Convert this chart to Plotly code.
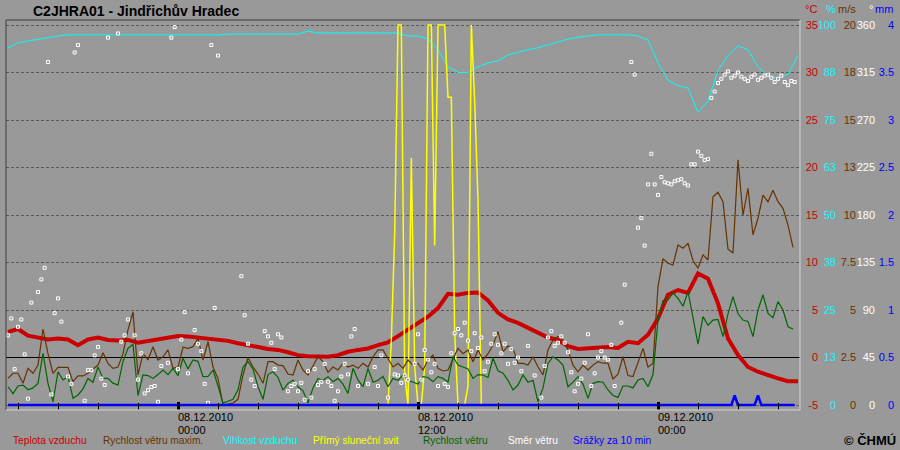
import pandas as pd
import plotly.graph_objects as go

# ---------------- data ----------------
START = pd.Timestamp("2010-12-07 15:30")

# air temperature [°C], every 30 min from START
temp_c = [2.7, 3.0, 2.3, 2.1, 1.9, 2.0, 1.9, 1.3, 1.9, 2.1,
          1.85, 1.8, 1.85, 1.55, 1.75, 1.85, 2.1, 2.25, 2.2, 2.1,
          1.9, 1.85, 1.75, 1.5, 1.35, 1.1, 0.9, 0.8, 0.55, 0.25,
          0.12, 0.15, 0.08, 0.25, 0.6, 0.8, 0.95, 1.3, 1.6, 2.25,
          2.9, 3.6, 4.3, 5.2, 6.7, 6.6, 6.8, 6.85, 6.0, 4.7,
          4.0, 3.65, 3.15, 2.55, 2.1, 1.85, 1.2, 0.9, 1.0, 1.07,
          1.1, 1.0, 1.65, 1.5, 2.4, 4.1, 6.6, 7.1, 6.8, 8.85,
          8.3, 5.7, 2.0, 0.26, -1.0, -1.5, -1.9, -2.2, -2.5, -2.5]

# relative humidity [%], every 30 min from START
humidity_pct = [94.0, 95.3, 95.8, 96.3, 96.6, 97.1, 97.4, 97.4, 97.4, 97.4,
                97.4, 97.4, 97.4, 97.4, 97.4, 97.4, 97.4, 97.4, 97.4, 97.4,
                97.4, 97.4, 97.6, 97.6, 97.6, 97.6, 97.6, 97.6, 97.6, 97.6,
                98.4, 97.9, 97.9, 97.9, 97.9, 97.9, 97.9, 97.9, 97.9, 97.9,
                97.1, 97.1, 96.3, 93.5, 89.0, 87.5, 87.5, 89.0, 90.0, 90.6,
                92.1, 92.9, 93.5, 94.0, 94.8, 95.5, 96.3, 96.8, 97.1, 97.4,
                97.4, 97.4, 97.4, 97.1, 96.0, 90.0, 85.5, 84.0, 83.4, 77.0,
                80.0, 88.0, 92.0, 94.5, 93.5, 89.0, 86.5, 86.0, 87.0, 92.0]

# max wind speed (gusts) [m/s], every 15 min from START
gust_ms = [1.4, 1.67, 1.67, 1.14, 1.93, 1.67, 2.1, 4.0, 2.7, 1.67,
           1.98, 1.98, 1.98, 1.23, 1.53, 1.53, 1.67, 1.9, 2.1, 2.75,
           2.19, 1.93, 2.0, 2.7, 3.95, 4.9, 1.58, 2.7, 2.37, 3.07,
           2.37, 2.54, 2.9, 1.93, 2.0, 3.04, 2.98, 3.07, 3.5, 2.37,
           3.33, 2.0, 1.4, 0.0, 0.05, 0.1, 0.3, 1.58, 2.5, 2.0,
           1.63, 1.14, 2.28, 2.28, 2.1, 2.07, 1.63, 1.58, 2.37, 1.84,
           1.58, 2.1, 2.54, 2.28, 1.72, 2.0, 1.84, 2.19, 2.0, 2.1,
           1.93, 2.19, 2.0, 2.54, 2.9, 2.9, 2.46, 2.0, 2.19, 1.93,
           2.37, 2.1, 2.19, 1.84, 2.37, 2.63, 1.93, 1.79, 1.84, 2.37,
           2.98, 2.7, 2.9, 2.28, 2.9, 2.37, 2.7, 3.16, 3.86, 2.8,
           3.1, 2.98, 2.19, 2.19, 2.1, 2.54, 2.0, 1.58, 2.9, 3.42,
           3.6, 3.42, 2.9, 2.1, 1.75, 2.1, 1.84, 2.1, 2.28, 2.2,
           2.2, 1.37, 1.62, 2.54, 1.55, 1.5, 2.25, 2.98, 2.0, 2.19,
           6.23, 7.7, 7.46, 7.37, 8.42, 8.25, 8.51, 7.6, 7.2, 7.9,
           7.63, 10.96, 11.2, 10.7, 8.2, 8.0, 12.9, 10.0, 11.4, 8.95,
           9.83, 11.05, 10.7, 11.3, 10.7, 10.35, 9.47, 8.3]

# mean wind speed [m/s], every 15 min from START
wind_ms = [0.96, 0.6, 1.0, 1.05, 0.8, 0.9, 1.14, 2.72, 1.14, 0.17,
           1.75, 1.32, 1.49, 0.35, 0.53, 0.85, 1.4, 1.2, 2.0, 1.4,
           1.4, 1.15, 1.05, 2.3, 2.98, 3.2, 0.5, 1.58, 1.55, 1.4,
           1.6, 1.84, 1.6, 1.93, 1.55, 2.46, 1.9, 2.37, 2.3, 1.49,
           1.5, 1.84, 1.0, 0.1, 0.2, 0.3, 0.8, 2.0, 2.28, 1.9,
           0.96, 0.3, 1.6, 1.75, 1.45, 0.79, 1.14, 1.3, 0.96, 0.75,
           0.12, 0.9, 1.4, 1.3, 1.49, 1.23, 1.4, 1.1, 0.61, 1.93,
           1.32, 0.96, 1.93, 1.2, 1.3, 1.5, 0.96, 1.4, 1.3, 1.58,
           1.3, 1.2, 1.1, 1.49, 1.45, 1.23, 1.49, 1.4, 1.2, 2.54,
           2.1, 2.0, 1.9, 1.4, 1.6, 1.58, 1.45, 2.46, 1.8, 1.67,
           1.3, 0.79, 1.05, 1.58, 1.2, 1.3, 0.17, 0.9, 2.19, 2.54,
           2.37, 2.1, 0.96, 1.2, 1.49, 1.1, 0.35, 1.14, 1.23, 1.2,
           0.79, 0.5, 0.4, 1.0, 1.0, 0.9, 1.32, 1.4, 0.96, 1.6,
           4.47, 5.5, 5.53, 5.9, 5.61, 5.2, 5.96, 4.6, 3.2, 4.65,
           4.2, 4.47, 4.5, 3.6, 4.8, 5.7, 4.8, 4.47, 4.4, 3.6,
           5.0, 5.8, 4.82, 4.6, 5.44, 5.0, 4.12, 4.0]

# direct sunshine [% of interval], every 10 min from SUN_START
SUN_START = pd.Timestamp("2010-12-08 10:30")
sunshine_pct = [0, 17, 45, 100, 100, 8, 0, 65, 10, 0,
                0, 10, 100, 100, 42, 100, 100, 100, 81, 81,
                19, 0, 0, 0, 5, 100, 80, 54, 0, 0]

# wind direction [°]: minutes after START, degrees
dir_min = [0, 10, 20, 30, 40, 50, 60, 70, 90, 100, 110, 130, 140, 150, 160, 180, 190,
           230, 240, 250, 260, 270, 280, 290, 340, 350, 360, 380, 390, 400, 410, 420,
           430, 440, 450, 460, 480, 510, 520, 530, 540, 560, 570, 580, 590, 600, 620,
           700, 710, 720, 730, 740, 770, 780, 790, 800, 810, 820, 840, 850, 860, 870,
           880, 890, 900, 910, 920, 930, 940, 950, 960, 970, 980, 990, 1000, 1010, 1020,
           1030, 1040, 1050, 1080, 1100, 1110, 1120, 1140, 1160, 1170, 1180, 1190, 1200,
           1220, 1230, 1240, 1250, 1260, 1270, 1280, 1290, 1310, 1320, 1330, 1340, 1350,
           1360, 1370, 1380, 1390, 1400, 1410, 1420, 1430, 1440, 1450, 1460, 1470, 1480,
           1490, 1500, 1510, 1520, 1530, 1540, 1560, 1580, 1600, 1610, 1620, 1630, 1640,
           1650, 1660, 1670, 1680, 1690, 1700, 1710, 1720, 1730, 1740, 1750, 1760, 1770,
           1780, 1790, 1800, 1810, 1820, 1840, 1850, 1870, 1880, 1890, 1900, 1910, 1920,
           1930, 1940, 1950, 1960, 1970, 1980, 1990, 2000, 2010, 2020, 2030, 2040, 2050,
           2060, 2070, 2080, 2090, 2100, 2110, 2120, 2130, 2140, 2150, 2160, 2170, 2180,
           2190, 2200, 2210, 2220, 2230, 2240, 2250, 2260, 2270, 2280, 2290, 2300, 2310,
           2320, 2330, 2340, 2350, 2360,
           120, 200, 210, 300, 330, 490, 500, 610, 630]
dir_deg = [66, 82, 34, 74, 81, 48, 6, 97, 107, 119, 130, 10, 87, 101, 79, 27, 20,
           4, 33, 33, 47, 55, 25, 19, 60, 66, 81, 66, 24, 49, 11, 14,
           17, 18, 3, 37, 40, 34, 62, 88, 30, 71, 58, 51, 20, 2, 92,
           122, 85, 58, 24, 18, 70, 65, 59, 34, 67, 64, 13, 18, 20, 13,
           21, 5, 32, 7, 34, 19, 22, 39, 22, 18, 4, 13, 27, 39, 29,
           65, 72, 18, 20, 36, 18, 47, 7, 29, 28, 21, 28, 24,
           39, 67, 24, 52, 43, 31, 39, 18, 20, 17, 49, 68, 72,
           66, 78, 61, 51, 68, 54, 64, 32, 41, 58, 67, 57, 49,
           58, 39, 53, 40, 45, 32, 56, 28, 7, 37, 64, 70, 56,
           59, 65, 59, 50, 31, 13, 20, 25, 40, 67, 18, 30, 45,
           51, 45, 43, 57, 18, 78, 114, 325, 313, 168, 177, 151, 209,
           238, 209, 199, 216, 211, 210, 209, 212, 213, 214, 210, 208, 228,
           228, 240, 236, 232, 233, 291, 297, 305, 309, 313, 316, 310, 312,
           315, 311, 309, 307, 311, 313, 308, 310, 312, 313, 310, 306, 309,
           312, 306, 303, 307, 306,
           325, 334, 341, 348, 352, 348, 358, 341, 331]

# precipitation per 10 min [mm]
precip_time = ["2010-12-07 15:30", "2010-12-09 03:40", "2010-12-09 03:50", "2010-12-09 04:00",
               "2010-12-09 04:50", "2010-12-09 05:00", "2010-12-09 05:10", "2010-12-09 06:50"]
precip_mm = [0, 0, 0.1, 0, 0, 0.1, 0, 0]

# axis tick labels
t_ticks = [-5, 0, 5, 10, 15, 20, 25, 30, 35]
h_ticks = [0, 12.5, 25, 37.5, 50, 62.5, 75, 87.5, 100]
h_text = ["0", "13", "25", "38", "50", "63", "75", "88", "100"]
w_ticks = [0, 2.5, 5, 7.5, 10, 12.5, 15, 17.5, 20]
w_text = ["0", "2.5", "5", "7.5", "10", "13", "15", "18", "20"]
d_ticks = [0, 45, 90, 135, 180, 225, 270, 315, 360]
p_ticks = [0, 0.5, 1, 1.5, 2, 2.5, 3, 3.5, 4]
p_text = ["0", "0.5", "1", "1.5", "2", "2.5", "3", "3.5", "4"]

title_text = "C2JHRA01 - Jindřichův Hradec"
legend_items = ["Teplota vzduchu", "Rychlost větru maxim.", "Vlhkost vzduchu",
                "Přímý sluneční svit", "Rychlost větru", "Směr větru", "Srážky za 10 min"]
date_labels = [("2010-12-08 00:00", "08.12.2010", "00:00"),
               ("2010-12-08 12:00", "08.12.2010", "12:00"),
               ("2010-12-09 00:00", "09.12.2010", "00:00")]

# ---------------- styling ----------------
BG = "#999999"
RED, BROWN, CYAN, YELLOW, GREEN, WHITE, BLUE = (
    "#cc0000", "#663300", "#00ffff", "#ffff00", "#006600", "#ffffff", "#0000ff")
FONT = "Liberation Sans, Arial, sans-serif"

t30 = pd.date_range(START, periods=len(temp_c), freq="30min")
t15 = pd.date_range(START, periods=len(gust_ms), freq="15min")
tsun = pd.date_range(SUN_START, periods=len(sunshine_pct), freq="10min")
tdir = [START + pd.Timedelta(minutes=m) for m in dir_min]

fig = go.Figure()
fig.add_trace(go.Scatter(x=t30, y=temp_c, mode="lines", line=dict(color=RED, width=4), yaxis="y"))
fig.add_trace(go.Scatter(x=t30, y=humidity_pct, mode="lines", line=dict(color=CYAN, width=1), yaxis="y2"))
fig.add_trace(go.Scatter(x=tsun, y=sunshine_pct, mode="lines", line=dict(color=YELLOW, width=1.5), yaxis="y2"))
fig.add_trace(go.Scatter(x=t15, y=gust_ms, mode="lines", line=dict(color=BROWN, width=1.2), yaxis="y3"))
fig.add_trace(go.Scatter(x=t15, y=wind_ms, mode="lines", line=dict(color=GREEN, width=1.2), yaxis="y3"))
fig.add_trace(go.Scatter(x=tdir, y=dir_deg, mode="markers",
                         marker=dict(symbol="square", size=3, color=BG, line=dict(color=WHITE, width=1)),
                         yaxis="y4"))
fig.add_trace(go.Scatter(x=pd.to_datetime(precip_time), y=precip_mm, mode="lines",
                         line=dict(color=BLUE, width=2.5), yaxis="y5"))

L, R, T, B = 6, 4, 20, 40
W, H = 900, 450
PW = W - L - R
PLOT_RIGHT = 800


def px_x(px):
    return (px - L) / PW


def px_y(py):
    return (H - B - py) / (H - T - B)


def scaled(lo, hi):
    # all scales share the geometry: lo at y=405px, hi at y=25px
    span = hi - lo
    pad = span * 5 / 380
    return [lo - pad, hi + pad]


# free axes on the left side of their anchor line -> right-aligned labels, never clipped
common = dict(showgrid=False, zeroline=False, showline=False, ticks="",
              anchor="free", side="left", ticklabelposition="outside", fixedrange=True)

fig.update_layout(
    width=W, height=H,
    margin=dict(l=L, r=R, t=T, b=B),
    paper_bgcolor=BG, plot_bgcolor=BG,
    showlegend=False, hovermode=False,
    font=dict(family=FONT, size=11, color="black"),
    xaxis=dict(
        domain=[0, px_x(PLOT_RIGHT)],
        range=[pd.Timestamp("2010-12-07 15:24"), pd.Timestamp("2010-12-09 07:06")],
        showgrid=False, zeroline=False, showline=False, showticklabels=False,
        tick0="2010-12-08 00:00", dtick=12 * 3600 * 1000,
        ticks="inside", ticklen=8, tickwidth=3, tickcolor="black",
        minor=dict(dtick=2 * 3600 * 1000, ticks="inside", ticklen=7, tickwidth=1, tickcolor="black"),
    ),
    yaxis=dict(common, range=scaled(-5, 35), tickvals=t_ticks, ticktext=[str(v) for v in t_ticks],
               tickfont=dict(color=RED), position=px_x(818),
               showgrid=True, gridcolor="#5a5a5a", griddash="3px,2px", gridwidth=1,
               zeroline=True, zerolinecolor="black", zerolinewidth=1),
    yaxis2=dict(common, overlaying="y", range=scaled(0, 100), tickvals=h_ticks, ticktext=h_text,
                tickfont=dict(color=CYAN), position=px_x(836)),
    yaxis3=dict(common, overlaying="y", range=scaled(0, 20), tickvals=w_ticks, ticktext=w_text,
                tickfont=dict(color=BROWN), position=px_x(856)),
    yaxis4=dict(common, overlaying="y", range=scaled(0, 360), tickvals=d_ticks,
                ticktext=[str(v) for v in d_ticks], tickfont=dict(color=WHITE), position=px_x(875)),
    yaxis5=dict(common, overlaying="y", range=scaled(0, 4), tickvals=p_ticks, ticktext=p_text,
                tickfont=dict(color=BLUE), position=px_x(894)),
)

# sunken panel frame
frame = [((0, 1), (1, 1), "#3c3c3c"), ((0, 0), (0, 1), "#3c3c3c"),
         ((0, 0), (1, 0), "#d4d4d4"), ((1, 0), (1, 1), "#d4d4d4")]
for (x0, y0), (x1, y1), c in frame:
    fig.add_shape(type="line", xref="x domain", yref="y domain", x0=x0, y0=y0, x1=x1, y1=y1,
                  line=dict(color=c, width=1), layer="above")

ann = []
ann.append(dict(text="<b>" + title_text + "</b>", x=px_x(31), y=px_y(11), xref="paper", yref="paper",
                xanchor="left", yanchor="middle", showarrow=False,
                font=dict(size=14, color="black", family=FONT)))
# unit headers
for txt, xr, col in [("°C", 819, RED), ("%", 838, CYAN), ("m/s", 858, BROWN),
                     ("°", 875, WHITE), ("mm", 895, BLUE)]:
    ann.append(dict(text=txt, x=px_x(xr), y=px_y(9), xref="paper", yref="paper",
                    xanchor="right", yanchor="middle", showarrow=False,
                    font=dict(size=11, color=col)))
# date labels
for xv, d, hm in date_labels:
    ann.append(dict(text=d, x=xv, y=px_y(417), xref="x", yref="paper", xanchor="left",
                    yanchor="middle", showarrow=False, xshift=-2, font=dict(size=11, color="black")))
    ann.append(dict(text=hm, x=xv, y=px_y(430), xref="x", yref="paper", xanchor="left",
                    yanchor="middle", showarrow=False, xshift=-2, font=dict(size=11, color="black")))
# legend texts
for txt, xl, col in zip(legend_items, [11, 101, 221, 311, 421, 506, 571],
                        [RED, BROWN, CYAN, YELLOW, GREEN, WHITE, BLUE]):
    ann.append(dict(text=txt, x=px_x(xl), y=px_y(440), xref="paper", yref="paper",
                    xanchor="left", yanchor="middle", showarrow=False,
                    font=dict(size=10.2, color=col)))
ann.append(dict(text="<b>© ČHMÚ</b>", x=px_x(898), y=px_y(440), xref="paper", yref="paper",
                xanchor="right", yanchor="middle", showarrow=False,
                font=dict(size=13, color="black", family=FONT)))
fig.update_layout(annotations=ann)

fig.write_html("out.html", config={"displayModeBar": False, "staticPlot": True},
               post_script="document.body.style.margin='0px';")
